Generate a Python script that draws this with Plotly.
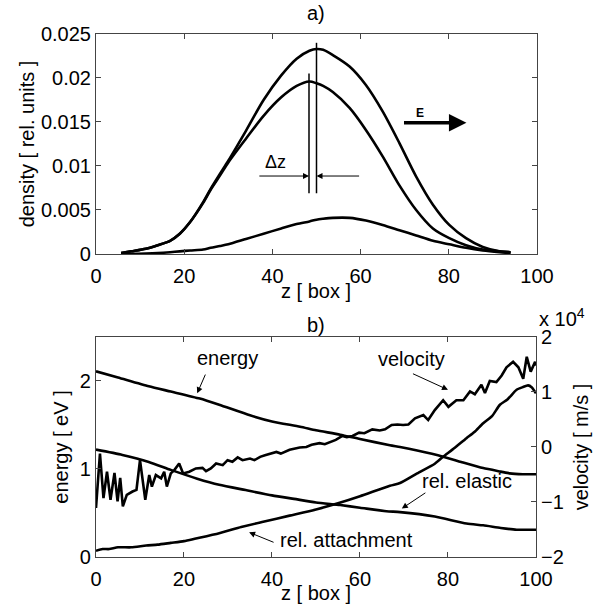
import plotly.graph_objects as go

# a) density profiles
z_dens = [5.7, 8, 11.3, 14, 16.8, 19, 21.3, 24.3, 26, 28.1, 30, 34, 38, 42, 45.5, 48.4, 50,
          51.5, 53.7, 57.5, 61.2, 65, 68.8, 72.6, 76.4, 80.1, 83.9, 87.7, 91.5, 94]
dens_1 = [0.0001, 0.0003, 0.0006, 0.0010, 0.0015, 0.0023, 0.0036, 0.0059, 0.0074, 0.0091, 0.0106,
          0.0140, 0.0175, 0.0203, 0.0222, 0.0231, 0.0233, 0.0232, 0.0226, 0.0213, 0.0192, 0.0162,
          0.0126, 0.0088, 0.0056, 0.0033, 0.0018, 0.0008, 0.0003, 0.0002]
dens_2 = [0.0001, 0.0003, 0.0006, 0.0010, 0.0015, 0.0023, 0.0036, 0.0058, 0.0073, 0.0089, 0.0104,
          0.0131, 0.0157, 0.0178, 0.0191, 0.0196, 0.0194, 0.0191, 0.0184, 0.0166, 0.0141, 0.0111,
          0.0078, 0.0050, 0.0029, 0.0018, 0.0010, 0.0005, 0.0003, 0.0002]
dens_3 = [0.0, 0.00002, 0.00005, 0.0001, 0.0002, 0.0003, 0.0004, 0.0005, 0.0007, 0.0009, 0.0011,
          0.0017, 0.0023, 0.0029, 0.0034, 0.0037, 0.0039, 0.0040, 0.0041, 0.0041, 0.0038, 0.0033,
          0.0027, 0.0021, 0.0015, 0.0011, 0.0007, 0.0004, 0.0002, 0.0001]

# b) energy, rates and drift velocity
z_energy = [0, 5, 12, 17, 23.6, 28, 35, 40, 46.4, 50, 55.5, 60, 66.8, 69.1, 73, 78.9, 83, 88, 92, 94, 97, 100]
energy = [2.11, 2.04, 1.94, 1.88, 1.80, 1.73, 1.61, 1.54, 1.48, 1.44, 1.39, 1.34, 1.27, 1.25, 1.21,
          1.14, 1.08, 1.01, 0.97, 0.95, 0.94, 0.94]

z_elastic = [0, 6, 12, 17, 23, 28, 34, 40, 45, 50, 55.5, 60, 66, 69.1, 77, 84.2, 88, 92, 95.6, 100]
elastic = [1.22, 1.16, 1.08, 0.99, 0.89, 0.82, 0.76, 0.70, 0.66, 0.62, 0.59, 0.56, 0.52, 0.51, 0.46,
           0.38, 0.36, 0.33, 0.31, 0.31]

z_attach = [0, 1.5, 3, 5, 8, 11.4, 14, 17, 20, 22.7, 28, 33, 38, 44, 50, 55, 60, 66.8, 69.1, 73, 77,
            78.9, 81, 84.2, 86, 88, 90, 91.8, 93.5, 95.6, 97, 98.2, 99, 100]
attach = [0.07, 0.09, 0.09, 0.11, 0.11, 0.13, 0.14, 0.16, 0.18, 0.21, 0.27, 0.34, 0.40, 0.47, 0.54,
          0.61, 0.69, 0.81, 0.84, 0.95, 1.06, 1.14, 1.22, 1.35, 1.42, 1.52, 1.60, 1.73, 1.79, 1.90,
          1.93, 1.95, 1.93, 1.86]

z_vel = [0, 0.9, 1.7, 2.5, 3.3, 4.2, 4.9, 5.5, 6.1, 7.0, 8.3, 9.2, 10.0, 11.2, 12.1, 12.7, 13.6,
         14.8, 15.5, 16.1, 17.0, 17.8, 18.9, 19.8, 21.2, 22.7, 24.2, 25.0, 26.1, 27.3, 28.8, 29.9,
         31.0, 32.2, 33.3, 35, 36, 37.3, 38.4, 39.5, 41, 42, 44, 46.3, 47.8, 49, 50.8, 52, 53,
         54.5, 56, 57, 58.3, 59.8, 61, 62.8, 64.5, 65.7, 67.2, 68.5, 69.8, 71, 72.5, 74.4, 75.5,
         77, 78.9, 80.1, 81.9, 83.5, 85, 86.1, 87.6, 88.4, 89.5, 91, 92.2, 93.3, 94.8, 96, 97.1,
         97.9, 98.8, 99.8, 100]
velocity = [-1.11, -0.12, -0.93, -0.45, -0.96, -0.47, -0.99, -0.56, -1.08, -0.87, -0.81, -0.78,
            -0.24, -0.96, -0.51, -0.72, -0.51, -0.57, -0.45, -0.72, -0.48, -0.42, -0.30, -0.48,
            -0.45, -0.39, -0.38, -0.44, -0.39, -0.30, -0.33, -0.24, -0.27, -0.19, -0.24, -0.21,
            -0.24, -0.18, -0.15, -0.12, -0.09, -0.12, -0.05, -0.01, 0.0, 0.04, 0.07, 0.05, 0.08,
            0.13, 0.20, 0.18, 0.20, 0.26, 0.25, 0.32, 0.30, 0.32, 0.40, 0.41, 0.40, 0.41, 0.52,
            0.58, 0.49, 0.67, 0.85, 0.73, 0.85, 0.85, 1.01, 0.96, 1.13, 0.98, 1.20, 1.18, 1.30,
            1.45, 1.55, 1.45, 1.24, 1.64, 1.37, 1.55, 1.48]   # x 10^4 m/s

z_ticks = [0, 20, 40, 60, 80, 100]
dens_ticks = [0, 0.005, 0.01, 0.015, 0.02, 0.025]
dens_labels = ["0", "0.005", "0.01", "0.015", "0.02", "0.025"]
energy_ticks = [0, 1, 2]
vel_ticks = [-2, -1, 0, 1, 2]

FONT = "Liberation Sans, Arial, Helvetica, sans-serif"
FS = 20
AX = "#444444"
LW = 2.6

fig = go.Figure()
for d in (dens_1, dens_2, dens_3):
    fig.add_trace(go.Scatter(x=z_dens, y=d, mode="lines",
                             line=dict(color="black", width=LW, shape="spline", smoothing=0.8),
                             xaxis="x", yaxis="y", showlegend=False))

for zz, vv in ((z_energy, energy), (z_elastic, elastic), (z_attach, attach)):
    fig.add_trace(go.Scatter(x=zz, y=vv, mode="lines",
                             line=dict(color="black", width=LW, shape="spline", smoothing=0.6),
                             xaxis="x2", yaxis="y2", showlegend=False))
fig.add_trace(go.Scatter(x=z_vel, y=velocity, mode="lines", line=dict(color="black", width=LW),
                         xaxis="x2", yaxis="y3", showlegend=False))

# delta z markers
dz_left, dz_right = 48.3, 50.0
fig.add_shape(type="line", xref="x", yref="y", x0=dz_left, x1=dz_left, y0=0.0069, y1=0.0205,
              line=dict(color="black", width=1.5))
fig.add_shape(type="line", xref="x", yref="y", x0=dz_right, x1=dz_right, y0=0.0069, y1=0.0240,
              line=dict(color="black", width=1.5))

ann = []
def arrow(x, y, ax, ay, xref, yref, w=1, size=1.2):
    ann.append(dict(x=x, y=y, ax=ax, ay=ay, xref=xref, yref=yref, axref=xref, ayref=yref,
                    text="", showarrow=True, arrowhead=2, arrowwidth=w, arrowsize=size,
                    arrowcolor="black"))

def label(x, y, text, xref, yref, size=FS, **kw):
    ann.append(dict(x=x, y=y, xref=xref, yref=yref, text=text, showarrow=False,
                    font=dict(family=FONT, size=size, color="black"), **kw))

arrow(dz_left, 0.00886, 36.7, 0.00886, "x", "y")
arrow(dz_right, 0.00886, 60.0, 0.00886, "x", "y")
label(40.8, 0.0104, "Δz", "x", "y", size=18)
arrow(84.0, 0.0149, 69.5, 0.0149, "x", "y", w=3.5, size=1.0)
label(73.5, 0.0160, "<b>E</b>", "x", "y", size=12)

arrow(23, 1.86, 25, 2.09, "x2", "y2")
label(29.8, 2.26, "energy", "x2", "y2")
arrow(80.0, 1.90, 71.7, 2.09, "x2", "y2")
label(71.7, 2.25, "velocity", "x2", "y2")
arrow(69.5, 0.55, 75.2, 0.74, "x2", "y2")
label(84.3, 0.86, "rel. elastic", "x2", "y2")
arrow(34.8, 0.28, 40.7, 0.16, "x2", "y2")
label(57.0, 0.19, "rel. attachment", "x2", "y2")

# panel letters, x labels, exponent
label(0.529, 1.0, "a)", "paper", "paper", yanchor="top")
label(0.529, 0.4637, "b)", "paper", "paper", yanchor="middle")
label(0.8995, 0.476, "x 10<sup>4</sup>", "paper", "paper", xanchor="left", yanchor="middle")
label(0.529, 0.520, "z [ box ]", "paper", "paper", yanchor="middle")
label(0.529, 0.0, "z [ box ]", "paper", "paper", yanchor="bottom")

fig.update_layout(annotations=ann)

axis_common = dict(showline=True, linecolor=AX, linewidth=1, ticks="inside", ticklen=5,
                   tickcolor=AX, showgrid=False, zeroline=False, automargin=False,
                   tickfont=dict(family=FONT, size=FS, color="black"),
                   title_font=dict(family=FONT, size=FS, color="black"))

fig.update_layout(
    width=597, height=606, autosize=False,
    margin=dict(l=0, r=0, t=0, b=0),
    paper_bgcolor="white", plot_bgcolor="white",
    font=dict(family=FONT, size=FS, color="black"),
    xaxis=dict(domain=[0.1608, 0.8995], range=[0, 100], tickvals=z_ticks, mirror="ticks",
               ticklabelstandoff=4, anchor="y", **axis_common),
    yaxis=dict(domain=[0.5809, 0.9439], range=[0, 0.025], tickvals=dens_ticks,
               ticktext=dens_labels, mirror="ticks", anchor="x",
               title=dict(text="density [ rel. units ]", standoff=0), **axis_common),
    xaxis2=dict(domain=[0.1608, 0.8978], range=[0, 100], tickvals=z_ticks, mirror="ticks",
                ticklabelstandoff=4, anchor="y2", **axis_common),
    yaxis2=dict(domain=[0.0809, 0.4439], range=[0, 2.5], tickvals=energy_ticks, anchor="x2",
                title=dict(text="energy [ eV ]", standoff=5), **axis_common),
    yaxis3=dict(range=[-2, 2], tickvals=vel_ticks, overlaying="y2", side="right", anchor="x2",
                title=dict(text="velocity [ m/s ]", standoff=11), **axis_common),
)

fig.write_html("out.html", config={"displayModeBar": False},
               post_script="document.body.style.margin='0px';")
